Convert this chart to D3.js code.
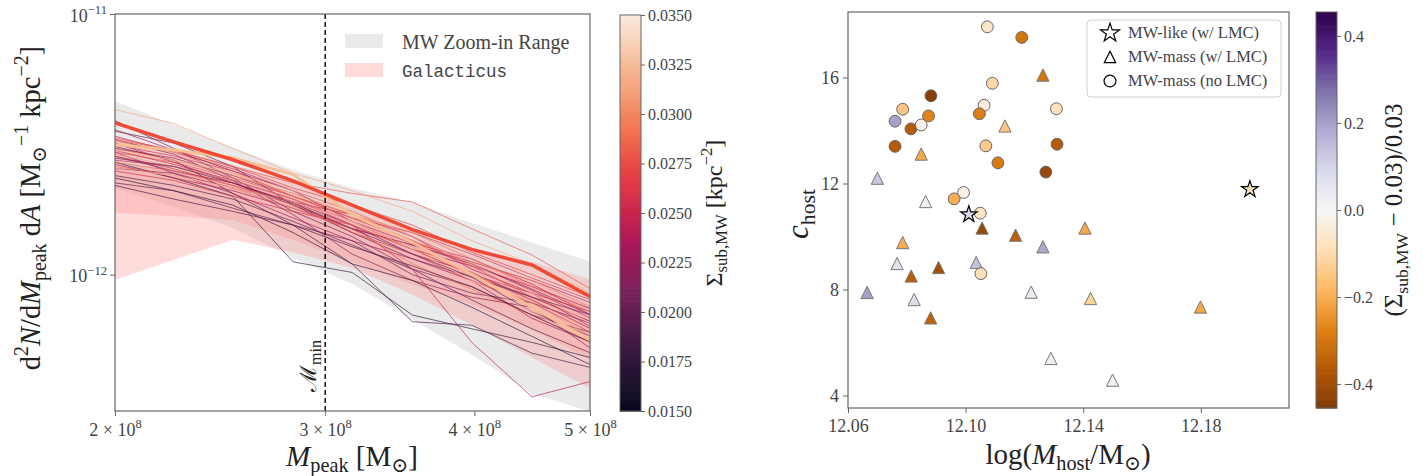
<!DOCTYPE html>
<html><head><meta charset="utf-8">
<script src="https://cdn.jsdelivr.net/npm/d3@7"></script>
<style>
html,body{margin:0;padding:0;background:#fff;}
svg{display:block;font-family:"Liberation Serif","DejaVu Serif",serif;}
</style></head><body>
<svg id="chart" width="1423" height="476"></svg>
<script>
// ================= DATA =================
// Left panel: peak-mass grid (Msun)
const massGrid = [2.00e8, 2.24e8, 2.51e8, 2.82e8, 3.16e8, 3.55e8, 3.98e8, 4.47e8, 5.01e8];
// MW zoom-in range band (units of 1e-12 Msun^-1 kpc^-2)
const zoomRangeUpper = [4.64, 3.76, 3.07, 2.52, 2.15, 1.89, 1.58, 1.33, 1.12];
const zoomRangeLower = [2.15, 1.82, 1.51, 1.16, 0.924, 0.673, 0.494, 0.350, 0.298];
// Galacticus bands (outer and inner)
const galOuterUpper = [3.29, 3.01, 2.64, 2.27, 1.85, 1.51, 1.27, 1.12, 0.957];
const galOuterLower = [0.957, 1.14, 1.36, 1.22, 1.06, 0.838, 0.643, 0.481, 0.363];
const galInnerUpper = [2.64, 2.53, 2.32, 1.99, 1.65, 1.36, 1.12, 0.94, 0.768];
const galInnerLower = [1.73, 1.68, 1.62, 1.36, 1.12, 0.916, 0.768, 0.615, 0.472];
// Highlighted thick curves
const thickRedCurve = [3.82, 3.23, 2.76, 2.29, 1.85, 1.49, 1.25, 1.09, 0.82];
const thickPeachCurve = [3.15, 3.01, 2.81, 2.42, 1.70, 1.33, 1.00, 0.75, 0.56];
// Individual zoom-in hosts: Sigma_sub,MW (kpc^-2)
const zoomSigma = [0.0178, 0.0188, 0.0195, 0.0200, 0.0205, 0.0210, 0.0213, 0.0218, 0.0222, 0.0226,
                   0.0229, 0.0233, 0.0236, 0.0240, 0.0244, 0.0248, 0.0252, 0.0256, 0.0260, 0.0265,
                   0.0270, 0.0275, 0.0280, 0.0285, 0.0290, 0.0295, 0.0300, 0.0308, 0.0315, 0.0322,
                   0.0330, 0.0175, 0.0190, 0.0203];
// Their subhalo mass functions (units of 1e-12)
const zoomCurves = [
  [2.70, 2.35, 2.00, 1.12, 1.02, 0.70, 0.62, 0.55, 0.48],
  [3.10, 2.75, 2.05, 1.55, 1.10, 0.66, 0.64, 0.50, 0.44],
  [2.40, 2.20, 1.95, 1.60, 1.30, 1.05, 0.80, 0.62, 0.50],
  [3.55, 3.20, 2.60, 1.85, 1.45, 1.15, 0.98, 0.72, 0.58],
  [2.25, 2.10, 1.80, 1.55, 1.35, 1.00, 0.85, 0.78, 0.65],
  [3.90, 3.05, 2.35, 1.75, 1.40, 1.05, 0.90, 0.70, 0.60],
  [2.85, 2.50, 2.25, 1.85, 1.50, 1.30, 1.10, 0.88, 0.70],
  [3.30, 2.90, 2.30, 1.70, 1.20, 0.95, 0.82, 0.75, 0.52],
  [2.55, 2.45, 2.15, 1.90, 1.55, 1.20, 1.02, 0.80, 0.62],
  [3.05, 2.80, 2.40, 2.00, 1.65, 1.35, 1.00, 0.82, 0.66],
  [2.95, 2.45, 2.05, 1.65, 1.35, 1.15, 0.95, 0.68, 0.55],
  [3.60, 3.00, 2.50, 2.10, 1.60, 1.25, 1.08, 0.90, 0.74],
  [2.65, 2.35, 2.10, 1.80, 1.50, 1.30, 1.12, 0.95, 0.78],
  [3.20, 2.70, 2.25, 1.90, 1.70, 1.40, 1.05, 0.85, 0.63],
  [3.00, 2.65, 2.30, 1.95, 1.55, 1.05, 0.55, 0.34, 0.39],
  [2.75, 2.60, 2.30, 1.95, 1.60, 1.32, 1.15, 0.92, 0.70],
  [3.40, 2.95, 2.55, 2.10, 1.75, 1.40, 1.10, 0.87, 0.68],
  [2.50, 2.30, 2.00, 1.75, 1.55, 1.25, 1.00, 0.85, 0.72],
  [3.15, 2.85, 2.50, 2.00, 1.65, 1.45, 1.20, 0.97, 0.80],
  [2.85, 2.55, 2.20, 1.90, 1.45, 1.20, 0.95, 0.78, 0.60],
  [3.35, 3.00, 2.60, 2.15, 1.85, 1.55, 1.22, 1.00, 0.82],
  [2.95, 2.70, 2.35, 2.00, 1.70, 1.35, 1.08, 0.82, 0.66],
  [3.30, 3.00, 2.60, 2.25, 2.05, 1.90, 1.50, 1.19, 0.88],
  [2.70, 2.50, 2.20, 1.85, 1.55, 1.25, 1.00, 0.80, 0.62],
  [3.05, 2.75, 2.40, 2.05, 1.70, 1.45, 1.15, 0.90, 0.72],
  [2.60, 2.40, 2.15, 1.80, 1.50, 1.10, 0.88, 0.70, 0.55],
  [3.25, 2.95, 2.45, 2.00, 1.65, 1.35, 1.12, 0.95, 0.75],
  [2.90, 2.60, 2.30, 1.95, 1.60, 1.28, 1.02, 0.78, 0.58],
  [4.30, 3.80, 3.05, 2.45, 2.10, 1.75, 1.35, 1.10, 0.85],
  [3.00, 2.75, 2.45, 2.10, 1.75, 1.40, 1.10, 0.85, 0.65],
  [2.55, 2.40, 2.15, 1.90, 1.60, 1.25, 0.95, 0.72, 0.55],
  [2.35, 2.10, 1.85, 1.45, 1.10, 0.95, 0.75, 0.58, 0.45],
  [2.20, 1.95, 1.75, 1.55, 1.28, 1.08, 0.90, 0.70, 0.55],
  [2.80, 2.60, 2.25, 1.88, 1.50, 1.20, 0.98, 0.82, 0.70]
];
const leftXTicks = [2e8, 3e8, 4e8, 5e8];
const leftYTicks = [1e-12, 1e-11];
const sigmaTicks = [0.0150, 0.0175, 0.0200, 0.0225, 0.0250, 0.0275, 0.0300, 0.0325, 0.0350];
const mMin = 3e8;

// Right panel
const circleX = [12.1074,12.1191,12.1091,12.0882,12.0786,12.0760,12.0814,12.0849,12.0874,12.1063,12.1047,12.1309,12.0760,12.1069,12.1311,12.1110,12.1273,12.0993,12.0961,12.1050,12.1052];
const circleY = [17.91,17.51,15.78,15.31,14.80,14.35,14.06,14.21,14.55,14.95,14.63,14.82,13.40,13.42,13.48,12.78,12.43,11.66,11.42,10.88,8.60];
const circleC = [-0.07,-0.30,-0.11,-0.44,-0.15,0.20,-0.36,-0.03,-0.27,-0.04,-0.28,-0.08,-0.36,-0.14,-0.36,-0.29,-0.41,-0.03,-0.20,-0.07,-0.09];
const triX = [12.1263,12.1134,12.0849,12.0700,12.0864,12.1056,12.1170,12.1406,12.0786,12.1263,12.0767,12.1036,12.0908,12.0815,12.0665,12.0825,12.1223,12.0881,12.1290,12.1425,12.1799,12.1500];
const triY = [16.09,14.17,13.11,12.20,11.32,10.32,10.05,10.32,9.77,9.61,8.98,9.02,8.83,8.51,7.89,7.62,7.90,6.93,5.40,7.66,7.34,4.58];
const triC = [-0.30,-0.15,-0.21,0.13,0.02,-0.41,-0.35,-0.21,-0.20,0.19,0.07,0.14,-0.39,-0.35,0.20,0.08,0.04,-0.34,0.02,-0.12,-0.21,0.02];
const starX = [12.1011, 12.1967];
const starY = [10.83, 11.78];
const starC = [0.09, -0.09];
const rightXTicks = [12.06, 12.10, 12.14, 12.18];
const rightYTicks = [4, 8, 12, 16];
const devTicks = [-0.4, -0.2, 0.0, 0.2, 0.4];

// ================= HELPERS =================
const svg = d3.select("#chart");
const SERIF = "'Liberation Serif','DejaVu Serif',serif";
const TICK_TXT = "#444", LABEL_TXT = "#222", SPINE = "#666";
const rocket = d3.piecewise(d3.interpolateRgb, ["#03051A","#35193E","#701F57","#AD1759","#E13342","#F37651","#F6B48F","#FAEBDD"]);
const puor = d3.piecewise(d3.interpolateRgb, ["#7f3b08","#b35806","#e08214","#fdb863","#fee0b6","#f7f7f7","#d8daeb","#b2abd2","#8073ac","#542788","#2d004b"]);
const sigmaNorm = d3.scaleLinear().domain([0.015, 0.035]).range([0, 1]).clamp(true);
const devNorm = d3.scaleLinear().domain([-0.455, 0.455]).range([0, 1]).clamp(true);

function rich(textSel, parts, fs) {
  let cur = 0;
  parts.forEach(p => {
    const target = p.s === "sup" ? -0.42 * fs : p.s === "sub" ? 0.22 * fs : 0;
    const ts = textSel.append("tspan").text(p.t).attr("dy", (target - cur).toFixed(2));
    cur = target;
    if (p.s) ts.attr("font-size", (0.7 * fs).toFixed(1));
    if (p.i) ts.attr("font-style", "italic");
    if (p.f) ts.attr("font-family", p.f);
  });
  return textSel;
}
function styleAxis(g, fs) {
  g.attr("font-family", SERIF).attr("font-size", fs);
  g.select(".domain").remove();
  g.selectAll(".tick line").attr("stroke", SPINE).attr("stroke-width", 1);
  g.selectAll(".tick text").attr("fill", TICK_TXT).attr("font-family", SERIF).attr("font-size", fs);
}

// ================= LEFT PANEL =================
const L = {x0: 115, x1: 590, y0: 14, y1: 411};
const xL = d3.scaleLog().domain([2e8, 5e8]).range([L.x0, L.x1]);
const yL = d3.scaleLog().domain([3e-13, 1e-11]).range([L.y1, L.y0]);
const E = 1e-12;

svg.append("defs").append("clipPath").attr("id", "clipL")
  .append("rect").attr("x", L.x0).attr("y", L.y0).attr("width", L.x1 - L.x0).attr("height", L.y1 - L.y0);
const plotL = svg.append("g").attr("clip-path", "url(#clipL)");

const band = (up, lo) => d3.area()
  .x((d, i) => xL(massGrid[i]))
  .y0((d, i) => yL(lo[i] * E))
  .y1((d, i) => yL(up[i] * E))(massGrid);

const GRAY_FILL = "#d9d9d9", GRAY_OP = 0.55, PINK_FILL = "#ff8a8a", PINK_OP = 0.3;
plotL.append("path").attr("d", band(zoomRangeUpper, zoomRangeLower)).attr("fill", GRAY_FILL).attr("fill-opacity", GRAY_OP);
plotL.append("path").attr("d", band(galOuterUpper, galOuterLower)).attr("fill", PINK_FILL).attr("fill-opacity", PINK_OP);
plotL.append("path").attr("d", band(galInnerUpper, galInnerLower)).attr("fill", PINK_FILL).attr("fill-opacity", PINK_OP);

const curveLine = d3.line().x((d, i) => xL(massGrid[i])).y(d => yL(d * E));
plotL.selectAll("path.zoom").data(zoomCurves).join("path").attr("class", "zoom")
  .attr("d", curveLine)
  .attr("fill", "none")
  .attr("stroke", (d, i) => rocket(sigmaNorm(zoomSigma[i])))
  .attr("stroke-width", 1)
  .attr("stroke-opacity", 0.68);
plotL.append("path").attr("d", curveLine(thickPeachCurve)).attr("fill", "none")
  .attr("stroke", "#f8bf92").attr("stroke-width", 3).attr("stroke-opacity", 0.95);
plotL.append("path").attr("d", curveLine(thickRedCurve)).attr("fill", "none")
  .attr("stroke", "#ee4a35").attr("stroke-width", 3.5);

// M_min line
svg.append("line").attr("x1", xL(mMin)).attr("x2", xL(mMin)).attr("y1", L.y0).attr("y2", L.y1)
  .attr("stroke", "#111").attr("stroke-width", 1.5).attr("stroke-dasharray", "5,3");
rich(svg.append("text").attr("transform", `translate(${xL(mMin) - 9},${366}) rotate(-90)`)
  .attr("text-anchor", "middle").attr("font-size", 23).attr("fill", LABEL_TXT),
  [{t: "\u2133", f: "DejaVu Serif"}, {t: "min", s: "sub"}], 23);

// spines
svg.append("rect").attr("x", L.x0).attr("y", L.y0).attr("width", L.x1 - L.x0).attr("height", L.y1 - L.y0)
  .attr("fill", "none").attr("stroke", SPINE).attr("stroke-width", 1.2);

// axes
const gxL = svg.append("g").attr("transform", `translate(0,${L.y1})`)
  .call(d3.axisBottom(xL).tickValues(leftXTicks).tickSize(5).tickFormat(""));
styleAxis(gxL, 18);
gxL.selectAll(".tick").each(function(d) {
  const t = d3.select(this).append("text").attr("y", 25).attr("text-anchor", "middle")
    .attr("font-size", 18).attr("font-family", SERIF).attr("fill", TICK_TXT);
  rich(t, [{t: (d / 1e8).toFixed(0) + " \u00d7 10"}, {t: "8", s: "sup"}], 18);
});
const gyL = svg.append("g").attr("transform", `translate(${L.x0},0)`)
  .call(d3.axisLeft(yL).tickValues(leftYTicks).tickSize(5).tickFormat(""));
styleAxis(gyL, 18);
gyL.selectAll(".tick").each(function(d) {
  const t = d3.select(this).append("text").attr("x", -8).attr("y", 7).attr("text-anchor", "end")
    .attr("font-size", 18).attr("font-family", SERIF).attr("fill", TICK_TXT);
  rich(t, [{t: "10"}, {t: "\u2212" + Math.round(-Math.log10(d)), s: "sup"}], 18);
});

// axis labels
rich(svg.append("text").attr("x", 352).attr("y", 466).attr("text-anchor", "middle")
  .attr("font-size", 29).attr("fill", LABEL_TXT),
  [{t: "M", i: true}, {t: "peak", s: "sub"}, {t: " [M"}, {t: "\u2299", s: "sub"}, {t: "]"}], 29);
rich(svg.append("text").attr("transform", "translate(40,208) rotate(-90)").attr("text-anchor", "middle")
  .attr("font-size", 28.5).attr("fill", LABEL_TXT),
  [{t: "d"}, {t: "2", s: "sup"}, {t: "N", i: true}, {t: "/d"}, {t: "M", i: true}, {t: "peak", s: "sub"},
   {t: " d"}, {t: "A", i: true}, {t: " [M"}, {t: "\u2299", s: "sub"}, {t: "\u22121", s: "sup"},
   {t: " kpc"}, {t: "\u22122", s: "sup"}, {t: "]"}], 28.5);

// left legend
const legL = svg.append("g");
legL.append("rect").attr("x", 345).attr("y", 34).attr("width", 38).attr("height", 14)
  .attr("fill", GRAY_FILL).attr("fill-opacity", GRAY_OP);
legL.append("rect").attr("x", 345).attr("y", 63).attr("width", 38).attr("height", 14)
  .attr("fill", PINK_FILL).attr("fill-opacity", PINK_OP);
legL.append("text").attr("x", 402).attr("y", 49).attr("font-size", 20).attr("fill", TICK_TXT).text("MW Zoom-in Range");
legL.append("text").attr("x", 402).attr("y", 77).attr("font-size", 17.5).attr("fill", TICK_TXT)
  .attr("font-family", "'Liberation Mono','DejaVu Sans Mono',monospace").text("Galacticus");

// colorbar 1
const CB1 = {x0: 620, x1: 641, y0: 15, y1: 411};
const yCB1 = d3.scaleLinear().domain([0.015, 0.035]).range([CB1.y1, CB1.y0]);
const cb1Steps = d3.range(0, 200);
svg.append("g").selectAll("rect").data(cb1Steps).join("rect")
  .attr("x", CB1.x0).attr("width", CB1.x1 - CB1.x0)
  .attr("y", d => yCB1(0.015 + (d + 1) * 0.0001))
  .attr("height", d => yCB1(0.015 + d * 0.0001) - yCB1(0.015 + (d + 1) * 0.0001) + 0.6)
  .attr("fill", d => rocket(sigmaNorm(0.015 + (d + 0.5) * 0.0001)));
svg.append("rect").attr("x", CB1.x0).attr("y", CB1.y0).attr("width", CB1.x1 - CB1.x0).attr("height", CB1.y1 - CB1.y0)
  .attr("fill", "none").attr("stroke", SPINE).attr("stroke-width", 1);
const gcb1 = svg.append("g").attr("transform", `translate(${CB1.x1},0)`)
  .call(d3.axisRight(yCB1).tickValues(sigmaTicks).tickSize(4).tickPadding(3).tickFormat(d3.format(".4f")));
styleAxis(gcb1, 16);
rich(svg.append("text").attr("transform", "translate(722,213) rotate(-90)").attr("text-anchor", "middle")
  .attr("font-size", 24).attr("fill", LABEL_TXT),
  [{t: "\u03a3"}, {t: "sub,MW", s: "sub"}, {t: " [kpc"}, {t: "\u22122", s: "sup"}, {t: "]"}], 24);

// ================= RIGHT PANEL =================
const R = {x0: 848, x1: 1289, y0: 12, y1: 408};
const xR = d3.scaleLinear().domain([12.06, 12.21]).range([R.x0, R.x1]);
const yR = d3.scaleLinear().domain([3.53, 18.47]).range([R.y1, R.y0]);

const triType = {draw(ctx, size) { const h = Math.sqrt(size) / 2; ctx.moveTo(0, -h); ctx.lineTo(h, h); ctx.lineTo(-h, h); ctx.closePath(); }};
const triSym = d3.symbol().type(triType).size(150);
const circSym = d3.symbol().type(d3.symbolCircle).size(110);
const starSym = d3.symbol().type(d3.symbolStar).size(85);

const gR = svg.append("g");
gR.selectAll("path.tri").data(triX).join("path").attr("class", "tri")
  .attr("transform", (d, i) => `translate(${xR(d)},${yR(triY[i])})`)
  .attr("d", triSym).attr("fill", (d, i) => puor(devNorm(triC[i])))
  .attr("stroke", "#777").attr("stroke-width", 1);
gR.selectAll("path.circ").data(circleX).join("path").attr("class", "circ")
  .attr("transform", (d, i) => `translate(${xR(d)},${yR(circleY[i])})`)
  .attr("d", circSym).attr("fill", (d, i) => puor(devNorm(circleC[i])))
  .attr("stroke", "#666").attr("stroke-width", 1);
gR.selectAll("path.star").data(starX).join("path").attr("class", "star")
  .attr("transform", (d, i) => `translate(${xR(d)},${yR(starY[i])})`)
  .attr("d", starSym).attr("fill", (d, i) => puor(devNorm(starC[i])))
  .attr("stroke", "#000").attr("stroke-width", 1.2);

svg.append("rect").attr("x", R.x0).attr("y", R.y0).attr("width", R.x1 - R.x0).attr("height", R.y1 - R.y0)
  .attr("fill", "none").attr("stroke", SPINE).attr("stroke-width", 1.2);
const gxR = svg.append("g").attr("transform", `translate(0,${R.y1})`)
  .call(d3.axisBottom(xR).tickValues(rightXTicks).tickSize(5).tickPadding(6).tickFormat(d3.format(".2f")));
styleAxis(gxR, 18);
const gyR = svg.append("g").attr("transform", `translate(${R.x0},0)`)
  .call(d3.axisLeft(yR).tickValues(rightYTicks).tickSize(5).tickPadding(4).tickFormat(d3.format("d")));
styleAxis(gyR, 18);

rich(svg.append("text").attr("x", 1068).attr("y", 464).attr("text-anchor", "middle")
  .attr("font-size", 29).attr("fill", LABEL_TXT),
  [{t: "log("}, {t: "M", i: true}, {t: "host", s: "sub"}, {t: "/M"}, {t: "\u2299", s: "sub"}, {t: ")"}], 29);
rich(svg.append("text").attr("transform", "translate(808,214) rotate(-90)").attr("text-anchor", "middle")
  .attr("font-size", 31).attr("fill", LABEL_TXT),
  [{t: "c", i: true}, {t: "host", s: "sub"}], 31);

// right legend
const legR = svg.append("g");
legR.append("rect").attr("x", 1087).attr("y", 20).attr("width", 194).attr("height", 77).attr("rx", 4)
  .attr("fill", "#fff").attr("fill-opacity", 0.85).attr("stroke", "#d0d0d0").attr("stroke-width", 1);
const legItems = [
  {sym: d3.symbol().type(d3.symbolStar).size(110), label: "MW-like (w/ LMC)"},
  {sym: d3.symbol().type(triType).size(130), label: "MW-mass (w/ LMC)"},
  {sym: d3.symbol().type(d3.symbolCircle).size(110), label: "MW-mass (no LMC)"}
];
legItems.forEach((it, k) => {
  const cy = 33 + k * 24;
  legR.append("path").attr("transform", `translate(1110,${cy})`).attr("d", it.sym())
    .attr("fill", "#fff").attr("stroke", "#000").attr("stroke-width", 1.2);
  legR.append("text").attr("x", 1128).attr("y", cy + 5).attr("font-size", 16.5).attr("fill", TICK_TXT).text(it.label);
});

// colorbar 2
const CB2 = {x0: 1316, x1: 1337, y0: 12, y1: 408};
const yCB2 = d3.scaleLinear().domain([-0.455, 0.455]).range([CB2.y1, CB2.y0]);
const cb2Steps = d3.range(0, 182);
svg.append("g").selectAll("rect").data(cb2Steps).join("rect")
  .attr("x", CB2.x0).attr("width", CB2.x1 - CB2.x0)
  .attr("y", d => yCB2(-0.455 + (d + 1) * 0.005))
  .attr("height", d => yCB2(-0.455 + d * 0.005) - yCB2(-0.455 + (d + 1) * 0.005) + 0.6)
  .attr("fill", d => puor(devNorm(-0.455 + (d + 0.5) * 0.005)));
svg.append("rect").attr("x", CB2.x0).attr("y", CB2.y0).attr("width", CB2.x1 - CB2.x0).attr("height", CB2.y1 - CB2.y0)
  .attr("fill", "none").attr("stroke", SPINE).attr("stroke-width", 1);
const gcb2 = svg.append("g").attr("transform", `translate(${CB2.x1},0)`)
  .call(d3.axisRight(yCB2).tickValues(devTicks).tickSize(4).tickPadding(3)
    .tickFormat(d => (d < 0 ? "\u2212" : "") + Math.abs(d).toFixed(1)));
styleAxis(gcb2, 16);
rich(svg.append("text").attr("transform", "translate(1402,210) rotate(-90)").attr("text-anchor", "middle")
  .attr("font-size", 25).attr("fill", LABEL_TXT),
  [{t: "(\u03a3"}, {t: "sub,MW", s: "sub"}, {t: " \u2212 0.03)/0.03"}], 25);
</script>
</body></html>
